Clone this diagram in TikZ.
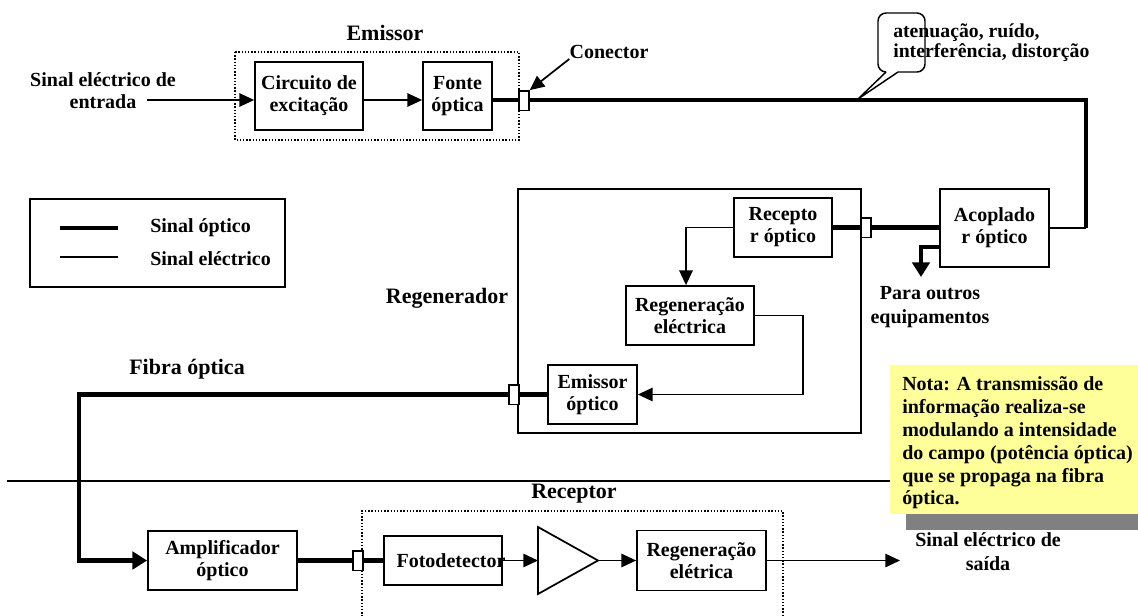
\documentclass[tikz,border=0pt]{standalone}
\usepackage{fontspec}
\setmainfont{Liberation Serif}
\usetikzlibrary{arrows.meta}
\definecolor{notey}{RGB}{255,255,153}
\definecolor{shadowg}{RGB}{128,128,128}
\newcommand\dgbody{\bfseries\fontsize{15}{16.5}\selectfont}
\newcommand\dgwide{\bfseries\fontsize{15}{18}\selectfont}
\newcommand\dgtitle{\bfseries\fontsize{16.5}{18}\selectfont}
\begin{document}
\begin{tikzpicture}[x=0.75pt,y=-0.75pt,
  box/.style={draw,line width=1.3pt,inner sep=0pt,align=center,font=\dgbody},
  conn/.style={draw,fill=white,line width=1pt,minimum width=7.5pt,minimum height=14.5pt,inner sep=0pt},
  lbl/.style={inner sep=0pt,align=center,font=\dgbody},
  ttl/.style={inner sep=0pt,font=\dgtitle},
  elec/.style={line width=1.3pt},
  optic/.style={line width=3.6pt},
  arr/.style={-{Triangle[length=11pt,width=10pt]}},
  tarr/.style={-{Triangle[length=11pt,width=13pt]}},
  dotbox/.style={line width=1.1pt,dash pattern=on 1.1pt off 1.3pt},
]
\useasboundingbox (0,0) rectangle (1138,615);

% divider line and note
\draw[line width=1pt] (7,481) -- (900,481);
\fill[shadowg] (906,381) rectangle (1150,530);
\fill[notey] (890,365) rectangle (1150,514);
\node[anchor=west,inner sep=0pt,align=left,font=\bfseries\fontsize{15}{17.1}\selectfont] (note) at (902,443)
  {Nota: A transmissão de\\informação realiza-se\\modulando a intensidade\\do campo (potência óptica)\\que se propaga na fibra\\óptica.};

% ---------- Emissor ----------
\node[ttl] (emtitle) at (385,33) {Emissor};
\draw[dotbox] (235,52) rectangle (519,140);
\node[box,minimum width=81pt,minimum height=51pt] (circ) at (309,96) {Circuito de\\excitação};
\node[box,minimum width=51.75pt,minimum height=51pt] (fonte) at (457.5,96) {Fonte\\óptica};
\node[lbl] (inlbl) at (103,91) {Sinal eléctrico de\\entrada};
\coordinate (yA) at (0,100);
\coordinate (inStart) at (147,100);
\draw[elec,arr] (inStart) -- (circ.west |- yA);
\draw[elec,arr] (circ.east |- yA) -- (fonte.west |- yA);

% ---------- Legend ----------
\draw[elec] (30,199) rectangle (285,287);
\coordinate (lgA) at (60,228); \coordinate (lgB) at (118,228);
\coordinate (lgC) at (60,257); \coordinate (lgD) at (118,257);
\draw[optic] (lgA) -- (lgB);
\draw[line width=1.1pt] (lgC) -- (lgD);
\node[lbl,anchor=west] (lg1) at (150,228) {Sinal óptico};
\node[lbl,anchor=west] (lg2) at (150,259) {Sinal eléctrico};

% ---------- Regenerador ----------
\draw[elec] (518,189) rectangle (861,433);
\node[ttl] (regtitle) at (447,298) {Regenerador};
\node[box,minimum width=73.5pt,minimum height=44.25pt] (recep) at (783,227.5) {Recepto\\r óptico};
\node[box,minimum width=96pt,minimum height=44.25pt] (regen) at (690,315.5) {Regeneração\\eléctrica};
\node[box,minimum width=66.75pt,minimum height=44.25pt] (emop) at (592.5,394.5) {Emissor\\óptico};
\node[box,minimum width=81.75pt,minimum height=58.5pt] (acop) at (994.5,228) {Acoplado\\r óptico};

\coordinate (bRL) at (686,227.5);
\draw[elec,arr] (recep.west) -- (bRL) -- (bRL |- regen.north);
\coordinate (bRE) at (803,315.5);
\draw[elec,arr] (regen.east) -- (bRE) -- (bRE |- emop.east) -- (emop.east);
\draw[optic] (recep.east) -- (acop.west |- recep.east);

% top fibre
\coordinate (bendTR) at (1086,100);
\draw[optic] (fonte.east |- yA) -- (bendTR) -- (bendTR |- acop.east);
\draw[elec] (bendTR |- acop.east) -- (acop.east);

% callout
\draw[line width=1.1pt,rounded corners=6pt] (886,72) -- (878,72) -- (878,13) -- (925,13) -- (925,72) -- (898,72);
\draw[line width=1.1pt] (886,72) -- (858,99) -- (898,72);
\node[anchor=west,inner sep=0pt,align=left,font=\bfseries\fontsize{14.8}{15}\selectfont] (calltxt) at (893,43)
  {atenuação, ruído,\\interferência, distorção};

% to other equipment
\coordinate (bAD) at (921,247);
\coordinate (paraTip) at (921,277);
\draw[optic,tarr] ([yshift=-14.25pt]acop.west) -- (bAD) -- (paraTip);
\node[lbl,font=\dgwide] (para) at (930,307) {Para outros\\equipamentos};

% ---------- Receptor ----------
\node[ttl] (rectitle) at (574,494) {Receptor};
\draw[dotbox] (362,620) -- (362,511) -- (783,511) -- (783,620);
\node[box,minimum width=111.75pt,minimum height=44.25pt] (amp) at (222.5,560.5) {Amplificador\\óptico};
\node[box,minimum width=88.5pt,minimum height=36.75pt] (foto) at (443,560.5) {};
\node[lbl] (fototxt) at (451,560.5) {Fotodetector};
\node[box,minimum width=96.75pt,minimum height=45pt] (regel) at (701.5,560.5) {Regeneração\\elétrica};

\coordinate (trL) at (538,560.5);
\coordinate (trT) at (538,527);
\coordinate (trB) at (538,594);
\coordinate (trR) at (598,560.5);
\draw[elec] (trT) -- (trR) -- (trB) -- cycle;
\draw[elec,arr] (foto.east) -- (trL);
\draw[elec,arr] (trR) -- (regel.west);
\coordinate (outTip) at (900,560.5);
\draw[elec,arr] (regel.east) -- (outTip);
\node[lbl,font=\dgwide] (outlbl) at (988,552) {Sinal eléctrico de\\saída};

% fibre (left) and amplifier
\node[ttl] (fibra) at (187,369) {Fibra óptica};
\coordinate (bF1) at (79,394.5);
\coordinate (bF2) at (79,560.5);
\draw[optic,tarr] (emop.west) -- (bF1) -- (bF2) -- (amp.west);
\draw[optic] (amp.east) -- (foto.west);

% connectors
\node[conn] (con1) at (524,100.5) {};
\node[conn] (con2) at (866,227.5) {};
\node[conn] (con3) at (514,394.5) {};
\node[conn] (con4) at (358,560.5) {};
\node[lbl] (conlbl) at (609,52) {Conector};
\draw[elec,arr] (conlbl.south west) -- (con1.north east);
\end{tikzpicture}
\end{document}
